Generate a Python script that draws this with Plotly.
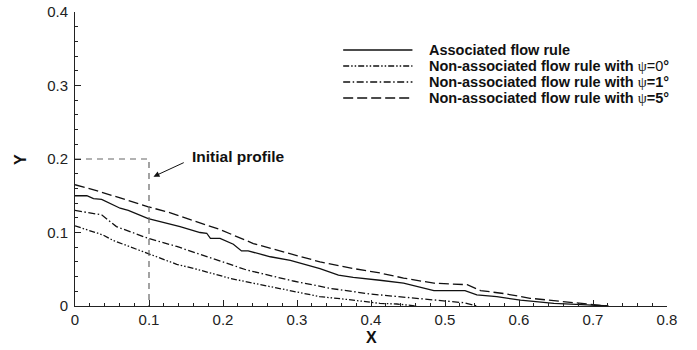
import plotly.graph_objects as go

# ---- data ----
assoc_x = [0, 0.016, 0.025, 0.036, 0.061, 0.072, 0.099, 0.128, 0.142, 0.169, 0.178, 0.183,
           0.196, 0.214, 0.225, 0.234, 0.264, 0.291, 0.331, 0.356, 0.376, 0.412, 0.444,
           0.485, 0.527, 0.543, 0.570, 0.602, 0.647, 0.692, 0.721]
assoc_y = [0.150, 0.150, 0.146, 0.145, 0.133, 0.130, 0.119, 0.112, 0.108, 0.100, 0.099, 0.092,
           0.092, 0.084, 0.075, 0.075, 0.067, 0.062, 0.051, 0.042, 0.039, 0.035, 0.031,
           0.021, 0.021, 0.015, 0.0127, 0.008, 0.0036, 0.0014, 0.0]

psi0_x = [0, 0.038, 0.052, 0.099, 0.1375, 0.1645, 0.2096, 0.241, 0.286, 0.331, 0.367,
          0.412, 0.435, 0.462]
psi0_y = [0.109, 0.0966, 0.089, 0.0717, 0.0567, 0.050, 0.0376, 0.031, 0.0218, 0.0127, 0.009,
          0.0036, 0.0027, 0.0]

psi1_x = [0, 0.036, 0.056, 0.099, 0.1375, 0.1735, 0.2096, 0.232, 0.295, 0.345, 0.399,
          0.444, 0.489, 0.525, 0.543]
psi1_y = [0.130, 0.124, 0.108, 0.092, 0.081, 0.069, 0.057, 0.049, 0.034, 0.024, 0.0163,
          0.0118, 0.0073, 0.0045, 0.0]

psi5_x = [0, 0.029, 0.061, 0.099, 0.128, 0.165, 0.196, 0.241, 0.286, 0.331, 0.376, 0.412,
          0.444, 0.485, 0.530, 0.548, 0.579, 0.615, 0.647, 0.683, 0.719]
psi5_y = [0.165, 0.157, 0.147, 0.135, 0.127, 0.115, 0.104, 0.085, 0.072, 0.060, 0.051, 0.045,
          0.038, 0.031, 0.029, 0.021, 0.017, 0.0105, 0.0073, 0.0036, 0.0]

init_x = [0, 0.1, 0.1]
init_y = [0.2, 0.2, 0.0]

PSI = "<span style='font-family:Liberation Serif, DejaVu Serif, serif'>ψ</span>"
series_names = [
    "<b>Associated flow rule</b>",
    "<b>Non-associated flow rule with </b>" + PSI + "=0<b>°</b>",
    "<b>Non-associated flow rule with </b>" + PSI + "<b>=1°</b>",
    "<b>Non-associated flow rule with </b>" + PSI + "<b>=5°</b>",
]

x_ticks = [0, 0.1, 0.2, 0.3, 0.4, 0.5, 0.6, 0.7, 0.8]
x_ticktext = ["0", "0.1", "0.2", "0.3", "0.4", "0.5", "0.6", "0.7", "0.8"]
y_ticks = [0, 0.1, 0.2, 0.3, 0.4]
y_ticktext = ["0", "0.1", "0.2", "0.3", "0.4"]

# ---- styles ----
FONT = "Liberation Sans, Arial, sans-serif"
dashes = ["solid", "6px,2px,1.5px,2px,1.5px,2px", "7px,2.5px,1.5px,2.5px", "10px,4px"]
LW = 1.3

fig = go.Figure()
series = [(assoc_x, assoc_y), (psi0_x, psi0_y), (psi1_x, psi1_y), (psi5_x, psi5_y)]
for (xs, ys), d, nm in zip(series, dashes, series_names):
    fig.add_trace(go.Scatter(x=xs, y=ys, mode="lines", name=nm,
                             line=dict(color="#111", width=LW, dash=d),
                             showlegend=False))

fig.add_trace(go.Scatter(x=init_x, y=init_y, mode="lines", showlegend=False,
                         line=dict(color="#666", width=1.2, dash="6px,5px")))

# manual legend (paper coordinates); plot area is 294 px tall, top at 12 px
leg_rows_px = [50, 66, 82, 98]
leg_rows_y = [(306 - p) / 294 for p in leg_rows_px]
shapes = []
annotations = []
for yy, d, nm in zip(leg_rows_y, dashes, series_names):
    shapes.append(dict(type="line", xref="paper", yref="paper", x0=0.453, x1=0.570,
                       y0=yy, y1=yy, line=dict(color="#111", width=LW, dash=d)))
    annotations.append(dict(xref="paper", yref="paper", x=0.595, y=yy, text=nm,
                            showarrow=False, xanchor="left", yanchor="middle",
                            font=dict(family=FONT, size=14.5, color="#111")))

# initial profile label + arrow
annotations.append(dict(x=0.155, y=0.203, xref="x", yref="y", text="<b>Initial profile</b>",
                        showarrow=False, xanchor="left", yanchor="middle",
                        font=dict(family=FONT, size=15.5, color="#111")))
annotations.append(dict(x=0.106, y=0.176, xref="x", yref="y", ax=0.149, ay=0.196,
                        axref="x", ayref="y", text="", showarrow=True, arrowhead=2,
                        arrowsize=1.2, arrowwidth=1, arrowcolor="#111"))

# axis titles
annotations.append(dict(xref="paper", yref="paper", x=0.5, y=-0.107, text="<b>X</b>",
                        showarrow=False, xanchor="center", yanchor="middle",
                        font=dict(family=FONT, size=16, color="#111")))
annotations.append(dict(xref="paper", yref="paper", x=-0.093, y=0.5, text="<b>Y</b>",
                        showarrow=False, xanchor="center", yanchor="middle", textangle=-90,
                        font=dict(family=FONT, size=16, color="#111")))

axis_common = dict(showgrid=False, zeroline=False, showline=True, linecolor="#222",
                   linewidth=1, ticks="inside", ticklen=6, tickwidth=1, tickcolor="#222",
                   tickfont=dict(family=FONT, size=15, color="#222"), mirror=False,
                   automargin=False)

fig.update_layout(
    width=697, height=350,
    margin=dict(l=75, r=30, t=12, b=44),
    paper_bgcolor="white", plot_bgcolor="white",
    shapes=shapes, annotations=annotations,
    xaxis=dict(range=[0, 0.8], tickvals=x_ticks, ticktext=x_ticktext,
               minor=dict(dtick=0.02, tick0=0, ticks="inside", ticklen=3, tickcolor="#222"),
               **axis_common),
    yaxis=dict(range=[0, 0.4], tickvals=y_ticks, ticktext=y_ticktext,
               minor=dict(dtick=0.02, tick0=0, ticks="inside", ticklen=3, tickcolor="#222"),
               ticklabelstandoff=3,
               **axis_common),
)

fig.write_html("out.html")
